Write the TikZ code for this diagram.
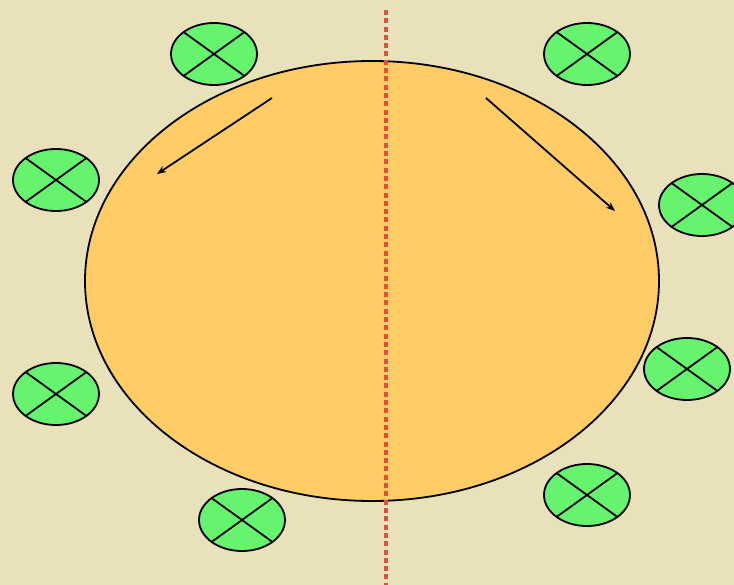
\documentclass[tikz,border=0pt]{standalone}
\usetikzlibrary{shapes.geometric,arrows.meta}
\definecolor{bgc}{HTML}{E8E1B9}
\definecolor{orangec}{HTML}{FFCC66}
\definecolor{greenc}{HTML}{66F46F}
\definecolor{redc}{HTML}{E0503C}
\begin{document}
\begin{tikzpicture}[x=1pt,y=-1pt,
  seat/.style={ellipse, draw=black, line width=1.8pt, fill=greenc,
    minimum width=86pt, minimum height=62pt, inner sep=0pt,
    path picture={\draw[line width=1.8pt]
      (path picture bounding box.north west) -- (path picture bounding box.south east)
      (path picture bounding box.north east) -- (path picture bounding box.south west);}},
  table/.style={ellipse, draw=black, line width=1.8pt, fill=orangec,
    minimum width=574pt, minimum height=440pt, inner sep=0pt},
  arr/.style={line width=1.8pt, -{Stealth[length=9pt,width=7pt]}}]
\fill[bgc] (0,0) rectangle (734,585);
\useasboundingbox (0,0) rectangle (734,585);
\node[table] (tbl) at (372,281) {};
\node[seat] (s1) at (214,54) {};
\node[seat] (s2) at (587,54) {};
\node[seat] (s3) at (56,180) {};
\node[seat] (s4) at (702,205) {};
\node[seat] (s5) at (687,369) {};
\node[seat] (s6) at (56,394) {};
\node[seat] (s7) at (242,520) {};
\node[seat] (s8) at (587,495) {};
\coordinate (dtop) at (386,10);
\coordinate (dbot) at (386,585);
\draw[redc, line width=4.5pt, dash pattern=on 5pt off 3.3pt] (dtop) -- (dbot);
\coordinate (a1s) at (272,98);
\coordinate (a1e) at (157,174);
\coordinate (a2s) at (486,98);
\coordinate (a2e) at (615,211);
\draw[arr] (a1s) -- (a1e);
\draw[arr] (a2s) -- (a2e);
\end{tikzpicture}
\end{document}
